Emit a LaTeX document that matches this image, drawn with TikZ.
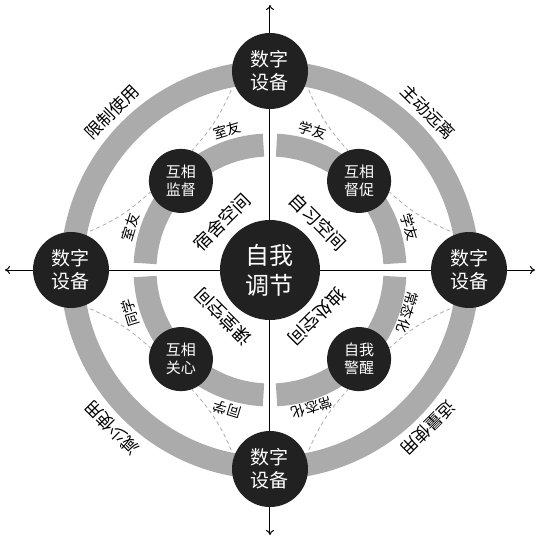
\documentclass[tikz,border=0pt]{standalone}
\usepackage{fontspec}
\newfontfamily\cjk{Noto Sans CJK SC}
\usetikzlibrary{arrows.meta}

\begin{document}
\begin{tikzpicture}[x=1pt,y=1pt,
    device/.style={circle,fill=black!87,text=white,minimum size=76pt,inner sep=0pt,align=center,font=\cjk\fontsize{19}{23}\selectfont},
    mutual/.style={circle,fill=black!87,text=white,minimum size=64pt,inner sep=0pt,align=center,font=\cjk\fontsize{15}{18}\selectfont},
    core/.style={circle,fill=black!87,text=white,minimum size=100pt,inner sep=0pt,align=center,font=\cjk\fontsize{24}{30}\selectfont},
    band/.style={draw=black!33,line width=23pt},
    link/.style={draw=black!33,line width=0.8pt,dash pattern=on 4pt off 3pt},
    tie/.style={font=\cjk\fontsize{14}{14}\selectfont},
    zone/.style={font=\cjk\fontsize{18}{18}\selectfont},
    usage/.style={font=\cjk\fontsize{17}{17}\selectfont},
    axis/.style={line width=1pt,-{To[length=5pt,width=8pt]}}
  ]
		\useasboundingbox (-270,-271) rectangle (269,270);

			\coordinate (o) at (0,0);
			\coordinate (an) at (0,265);
			\coordinate (as) at (0,-265);
			\coordinate (aw) at (-265,0);
			\coordinate (ae) at (265,0);
			\draw [axis] (o) -- (an);
			\draw [axis] (o) -- (as);
			\draw [axis] (o) -- (aw);
			\draw [axis] (o) -- (ae);

			\draw [band] (o) circle (198);
			\foreach \a in {0,90,180,270}
				\draw [band] (\a+3:125) arc (\a+3:\a+87:125);

			\node [device] (dn) at (0,199) {数字\\设备};
			\node [device] (dw) at (-199,0) {数字\\设备};
			\node [device] (de) at (199,0) {数字\\设备};
			\node [device] (ds) at (0,-199) {数字\\设备};
			\node [mutual] (mnw) at (135:126) {互相\\监督};
			\node [mutual] (mne) at (45:126) {互相\\督促};
			\node [mutual] (msw) at (225:126) {互相\\关心};
			\node [mutual] (mse) at (315:126) {自我\\警醒};
			\node [core] (me) at (o) {自我\\调节};

			\draw [link] (dn.199) to [bend left=10] (mnw.70);
			\draw [link] (dw.71) to [bend right=10] (mnw.200);
			\draw [link] (dn.341) to [bend right=10] (mne.110);
			\draw [link] (de.109) to [bend left=10] (mne.340);
			\draw [link] (de.251) to [bend right=10] (mse.20);
			\draw [link] (ds.19) to [bend left=10] (mse.250);
			\draw [link] (dw.289) to [bend left=10] (msw.160);
			\draw [link] (ds.161) to [bend right=10] (msw.290);

			\node [tie, rotate=17] (t1) at (107:146) {室友};
			\node [tie, rotate=73] (t2) at (163:146) {室友};
			\node [tie, rotate=-17] (t3) at (73:146) {学友};
			\node [tie, rotate=-73] (t4) at (17:146) {学友};
			\node [tie, rotate=-107] (t5) at (-17:144) {常态化};
			\node [tie, rotate=-163] (t6) at (-73:144) {常态化};
			\node [tie, rotate=107] (t7) at (197:146) {同学};
			\node [tie, rotate=163] (t8) at (253:146) {同学};

			\node [zone, rotate=45] (z1) at (135:68) {宿舍空间};
			\node [zone, rotate=-45] (z2) at (45:68) {自习空间};
			\node [zone, rotate=135] (z3) at (225:66) {课堂空间};
			\node [zone, rotate=225] (z4) at (315:66) {独处空间};

			\node [usage, rotate=45] (u1) at (135:223) {限制使用};
			\node [usage, rotate=-45] (u2) at (45:223) {主动远离};
			\node [usage, rotate=135] (u3) at (225:224) {减少使用};
			\node [usage, rotate=225] (u4) at (315:223) {适量使用};

	\end{tikzpicture}
\end{document}
